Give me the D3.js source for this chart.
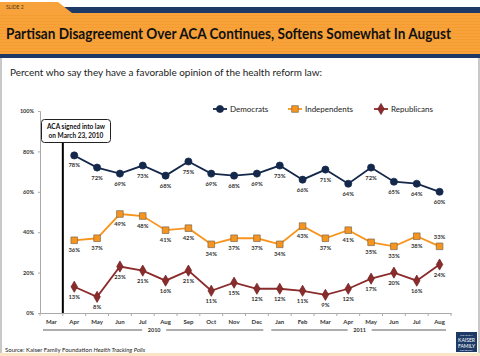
<!DOCTYPE html>
<html><head><meta charset="utf-8">
<script src="https://cdn.jsdelivr.net/npm/d3@7"></script>
<style>body{margin:0;background:#fff}svg{display:block}text{font-family:Lato,"Open Sans",sans-serif}</style>
</head><body>
<svg id="c" width="480" height="356"></svg>
<script>
const months = ["Mar","Apr","May","Jun","Jul","Aug","Sep","Oct","Nov","Dec","Jan","Feb","Mar","Apr","May","Jun","Jul","Aug"];
const dataMonths = months.slice(1);
const democrats =    [78,72,69,73,68,75,69,68,69,73,66,71,64,72,65,64,60];
const independents = [36,37,49,48,41,42,34,37,37,34,43,37,41,35,33,38,33];
const republicans =  [13,8,23,21,16,21,11,15,12,12,11,9,12,17,20,16,24];
const yTicks = [0,20,40,60,80,100];
const years = [{label:"2010", from:0, to:9},{label:"2011", from:10, to:17}];
const title = "Partisan Disagreement Over ACA Continues, Softens Somewhat In August";
const subtitle = "Percent who say they have a favorable opinion of the health reform law:";

const svg = d3.select("#c");
// frame
svg.append("rect").attr("x",0).attr("y",0).attr("width",480).attr("height",356).attr("fill","#fff");
svg.append("rect").attr("x",0).attr("y",58).attr("width",2).attr("height",298).attr("fill","#c8c8c8");
svg.append("rect").attr("x",478).attr("y",58).attr("width",2).attr("height",298).attr("fill","#c8c8c8");
svg.append("rect").attr("x",0).attr("y",353).attr("width",480).attr("height",3).attr("fill","#fbe3c6");
// header
svg.append("rect").attr("x",0).attr("y",7).attr("width",480).attr("height",6).attr("fill","#1d3a66");
svg.append("path").attr("d","M0,2 L58,2 L72,13 L0,13 Z").attr("fill","#f7a23a");
svg.append("rect").attr("x",0).attr("y",13).attr("width",480).attr("height",41).attr("fill","#f7a23a");
for(let yy=15; yy<54; yy+=3){ svg.append("rect").attr("x",0).attr("y",yy).attr("width",480).attr("height",1).attr("fill","#f4982c").attr("opacity",0.6); }
svg.append("rect").attr("x",0).attr("y",54).attr("width",480).attr("height",4).attr("fill","#1d3a66");
svg.append("text").attr("x",6).attr("y",9).attr("font-size",5).attr("fill","#4a3a20").text("SLIDE 2");
svg.append("text").attr("x",6).attr("y",39).attr("font-size",14.5).attr("font-weight","bold").attr("fill","#111")
  .attr("textLength",445).attr("lengthAdjust","spacingAndGlyphs").text(title);
svg.append("text").attr("x",10).attr("y",76).attr("font-size",9.5).attr("fill","#222")
  .attr("textLength",312).attr("lengthAdjust","spacingAndGlyphs").text(subtitle);

// scales
const x = d3.scaleBand().domain(d3.range(months.length)).range([40,451]);
const cx = i => x(i) + x.bandwidth()/2;
const y = d3.scaleLinear().domain([0,100]).range([313,111]);

// y axis
const ya = svg.append("g").attr("transform","translate(40,0)")
  .call(d3.axisLeft(y).tickValues(yTicks).tickFormat(d=>d+"%").tickSize(2).tickPadding(4));
ya.select(".domain").attr("stroke","#aaa");
ya.selectAll(".tick line").attr("stroke","#aaa");
ya.selectAll("text").attr("font-size",5.5).attr("font-weight","bold").attr("fill","#333").attr("font-family","Lato,sans-serif");

// x axis
const xa = svg.append("g").attr("transform","translate(0,313)")
  .call(d3.axisBottom(x).tickFormat(i=>months[i]).tickSize(0).tickPadding(7));
xa.select(".domain").attr("stroke","#aaa");
xa.selectAll("text").attr("font-size",6).attr("font-weight","bold").attr("fill","#333").attr("font-family","Lato,sans-serif");
svg.append("g").selectAll("line").data(d3.range(months.length+1)).join("line")
  .attr("x1",i=>40+i*x.step()).attr("x2",i=>40+i*x.step()).attr("y1",313).attr("y2",316).attr("stroke","#aaa");

// years
years.forEach(yr=>{
  const x0 = x(yr.from)-3, x1 = x(yr.to)+x.bandwidth()+3, mid=(x0+x1)/2;
  svg.append("line").attr("x1",x0+6).attr("x2",mid-12).attr("y1",330).attr("y2",330).attr("stroke","#333").attr("stroke-width",0.8);
  svg.append("line").attr("x1",mid+12).attr("x2",x1-8).attr("y1",330).attr("y2",330).attr("stroke","#333").attr("stroke-width",0.8);
  svg.append("text").attr("x",mid).attr("y",332).attr("text-anchor","middle").attr("font-size",5.5).attr("font-weight","bold").attr("fill","#333").text(yr.label);
});

// ACA annotation
const vx = x(1);
svg.append("line").attr("x1",vx).attr("x2",vx).attr("y1",141).attr("y2",313).attr("stroke","#000").attr("stroke-width",2);
svg.append("rect").attr("x",41.5).attr("y",119.5).attr("width",69).attr("height",23).attr("rx",3).attr("fill","#fff").attr("stroke","#222").attr("stroke-width",1);
svg.append("text").attr("x",76).attr("y",128.5).attr("text-anchor","middle").attr("font-size",6.5).attr("font-weight","bold").attr("fill","#111").text("ACA signed into law");
svg.append("text").attr("x",76).attr("y",137.5).attr("text-anchor","middle").attr("font-size",6.5).attr("font-weight","bold").attr("fill","#111").text("on March 23, 2010");

const series = [
  {name:"Democrats", values:democrats, color:"#14284b", marker:"circle", fill:"#14284b", stroke:"#14284b", lx:220},
  {name:"Independents", values:independents, color:"#f7941d", marker:"square", fill:"#f7941d", stroke:"#7a6a55", lx:295},
  {name:"Republicans", values:republicans, color:"#8b2b2b", marker:"diamond", fill:"#8b2b2b", stroke:"#6a2020", lx:381}
];
const sym = {circle:d3.symbol(d3.symbolCircle,40), square:d3.symbol(d3.symbolSquare,44), diamond:d3.symbol(d3.symbolDiamond,36)};
const line = d3.line().x((d,i)=>cx(i+1)).y(d=>y(d));
series.forEach(s=>{
  svg.append("path").datum(s.values).attr("d",line).attr("fill","none").attr("stroke",s.color).attr("stroke-width",1.8);
  svg.append("g").selectAll("path").data(s.values).join("path")
    .attr("d",sym[s.marker]).attr("transform",(d,i)=>`translate(${cx(i+1)},${y(d)})`)
    .attr("fill",s.fill).attr("stroke",s.stroke).attr("stroke-width",0.7);
  svg.append("g").selectAll("text").data(s.values).join("text")
    .attr("x",(d,i)=>cx(i+1))
    .attr("y",(d,i)=> (s.name==="Independents" && i===s.values.length-1) ? y(d)-7 : y(d)+12)
    .attr("text-anchor","middle").attr("font-size",5.8).attr("font-weight","bold").attr("fill","#333").text(d=>d+"%");
  // legend
  svg.append("line").attr("x1",s.lx-7).attr("x2",s.lx+7).attr("y1",109).attr("y2",109).attr("stroke",s.color).attr("stroke-width",1.8);
  svg.append("path").attr("d",sym[s.marker]).attr("transform",`translate(${s.lx},109)`).attr("fill",s.fill).attr("stroke",s.stroke).attr("stroke-width",0.7);
  svg.append("text").attr("x",s.lx+10).attr("y",112).attr("font-size",8).attr("fill","#222").text(s.name);
});

// source
const src = svg.append("text").attr("x",5).attr("y",352).attr("font-size",6).attr("fill","#222");
src.append("tspan").text("Source: Kaiser Family Foundation ");
src.append("tspan").attr("font-style","italic").text("Health Tracking Polls");

// logo
svg.append("rect").attr("x",456).attr("y",332).attr("width",21).attr("height",20).attr("fill","#1d3a66");
svg.append("text").attr("x",466.5).attr("y",336).attr("text-anchor","middle").attr("font-size",2).attr("fill","#fff").text("THE HENRY J.");
svg.append("text").attr("x",466.5).attr("y",342).attr("text-anchor","middle").attr("font-size",5).attr("fill","#fff").attr("font-family","Liberation Serif,serif").text("KAISER");
svg.append("text").attr("x",466.5).attr("y",347.5).attr("text-anchor","middle").attr("font-size",5).attr("fill","#fff").attr("font-family","Liberation Serif,serif").text("FAMILY");
svg.append("text").attr("x",466.5).attr("y",350.5).attr("text-anchor","middle").attr("font-size",2).attr("fill","#fff").text("FOUNDATION");
</script>
</body></html>
